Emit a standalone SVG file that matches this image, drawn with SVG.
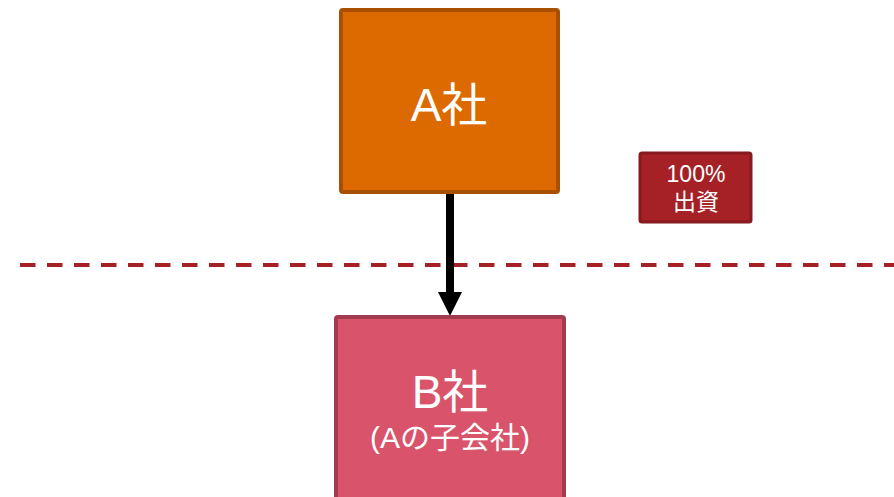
<svg xmlns="http://www.w3.org/2000/svg" width="894" height="497" viewBox="0 0 894 497">
<style>
text{font-family:"Liberation Sans","Noto Sans CJK JP",sans-serif;fill:#fff;text-anchor:middle}
.big{font-size:46px}
.sub{font-size:30px}
.lab{font-size:23px}
</style>
<rect width="894" height="497" fill="#fff"/>
<g id="connectors">
<line x1="20" y1="265" x2="894" y2="265" stroke="#a52126" stroke-width="4" stroke-dasharray="15.5 11.5"/>
<line x1="450" y1="193" x2="450" y2="294" stroke="#000" stroke-width="8"/>
<polygon points="438,292 462,292 450,316" fill="#000"/>
</g>
<g id="nodeA">
<rect x="341" y="10" width="217" height="182" rx="2" fill="#dd6a00" stroke="#a85000" stroke-width="4"/>
<text class="big" x="449" y="121">A社</text>
</g>
<g id="nodeB">
<rect x="336" y="317" width="228" height="190" rx="2" fill="#d9546b" stroke="#a33a50" stroke-width="4"/>
<text class="big" x="450" y="408">B社</text>
<text class="sub" x="450" y="448">(Aの子会社)</text>
</g>
<g id="label">
<rect x="640" y="153" width="111" height="69" rx="2" fill="#a52126" stroke="#861a1e" stroke-width="3"/>
<text class="lab" x="696" y="182">100%</text>
<text class="lab" x="696" y="210">出資</text>
</g>
</svg>
